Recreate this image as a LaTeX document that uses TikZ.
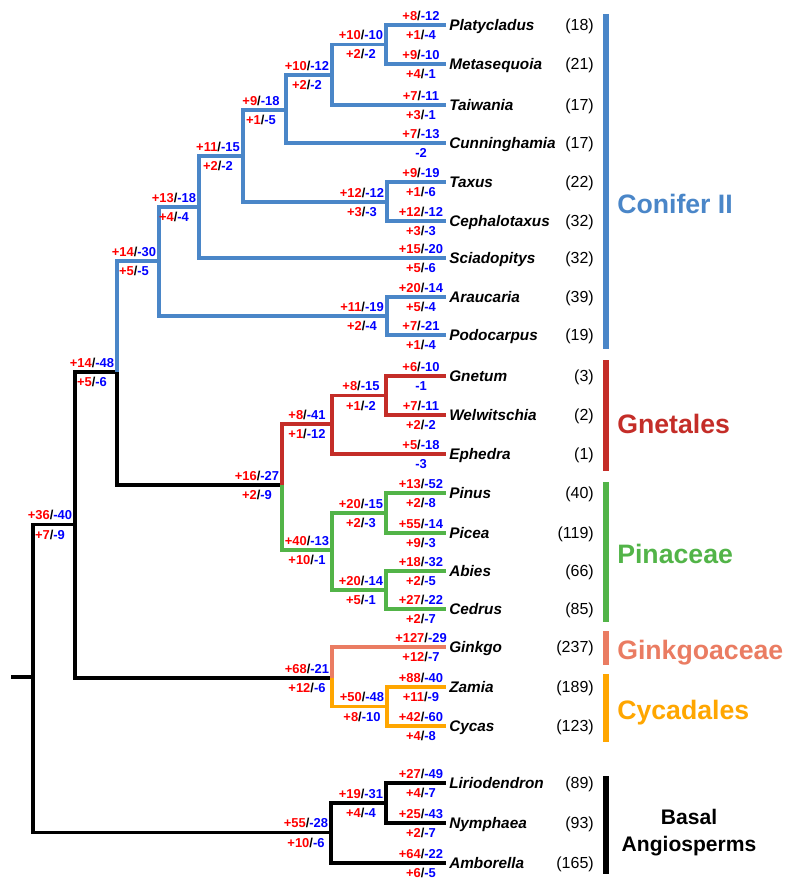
\documentclass[tikz,border=0pt]{standalone}
\usepackage{fontspec}
\setmainfont{Liberation Sans}
\definecolor{cII}{RGB}{74,134,200}
\definecolor{gne}{RGB}{196,45,40}
\definecolor{pinc}{RGB}{82,180,72}
\definecolor{gin}{RGB}{234,124,98}
\definecolor{cyc}{RGB}{255,166,0}
\definecolor{lr}{RGB}{255,0,0}
\definecolor{lb}{RGB}{0,0,255}
\newcommand\gainloss[2]{\textcolor{lr}{+#1}/\textcolor{lb}{-#2}}
\newcommand\lossonly[1]{\textcolor{lb}{-#1}}
% name, parent, x, y, colour, upper, lower
\newcommand\mkinner[7]{%
  \coordinate (#1) at (#3,#4);
  \draw[br,color=#5] (#2) |- (#1);
  \node[lab] (#1u) at ([shift={(-25,-4.9)}]#1) {#6};
  \node[lab] (#1l) at ([shift={(-25,14.5)}]#1) {#7};
}
% name, parent, y, colour, species, count, upper, lower
\newcommand\mkleaf[8]{%
  \coordinate (#1) at (446,#3);
  \draw[br,color=#4] (#2) |- (#1);
  \node[lab] (#1u) at ([shift={(-25,-4.9)}]#1) {#7};
  \node[lab] (#1l) at ([shift={(-25,14.5)}]#1) {#8};
  \node[sp] (#1s) at (449,#3+5.5) {#5};
  \node[cnt] (#1c) at (594,#3+5.7) {(#6)};
}
\begin{document}
\begin{tikzpicture}[x=0.75pt,y=-0.75pt,
  br/.style={line width=2.4pt},
  lab/.style={font=\bfseries\fontsize{9.7}{11}\selectfont,inner sep=0pt,anchor=base},
  sp/.style={font=\bfseries\itshape\fontsize{11.5}{13}\selectfont,inner sep=0pt,anchor=base west},
  cnt/.style={font=\fontsize{12}{14}\selectfont,inner sep=0pt,anchor=base east},
  clade/.style={font=\bfseries\fontsize{20}{24}\selectfont,inner sep=0pt,anchor=base west},
  bar/.style={line width=4.9pt}]
\useasboundingbox (0,0) rectangle (793,891);
\coordinate (stub) at (11,677);
\coordinate (root) at (33,677);
\draw[br] (stub) -- (root);
\mkinner{gym}{root}{75}{524.5}{black}{\gainloss{36}{40}}{\gainloss{7}{9}}
\mkinner{gymb}{gym}{117}{372}{black}{\gainloss{14}{48}}{\gainloss{5}{6}}
\mkinner{sa}{gymb}{159}{261}{cII}{\gainloss{14}{30}}{\gainloss{5}{5}}
\mkinner{s}{sa}{199}{207}{cII}{\gainloss{13}{18}}{\gainloss{4}{4}}
\mkinner{cup}{s}{243}{156}{cII}{\gainloss{11}{15}}{\gainloss{2}{2}}
\mkinner{pmtc}{cup}{286}{110}{cII}{\gainloss{9}{18}}{\gainloss{1}{5}}
\mkinner{pmt}{pmtc}{332}{75}{cII}{\gainloss{10}{12}}{\gainloss{2}{2}}
\mkinner{pm}{pmt}{386}{44.5}{cII}{\gainloss{10}{10}}{\gainloss{2}{2}}
\mkleaf{platy}{pm}{25}{cII}{Platycladus}{18}{\gainloss{8}{12}}{\gainloss{1}{4}}
\mkleaf{meta}{pm}{64}{cII}{Metasequoia}{21}{\gainloss{9}{10}}{\gainloss{4}{1}}
\mkleaf{taiw}{pmt}{105}{cII}{Taiwania}{17}{\gainloss{7}{11}}{\gainloss{3}{1}}
\mkleaf{cunn}{pmtc}{143}{cII}{Cunninghamia}{17}{\gainloss{7}{13}}{\lossonly{2}}
\mkinner{tc}{cup}{387}{202}{cII}{\gainloss{12}{12}}{\gainloss{3}{3}}
\mkleaf{taxus}{tc}{182}{cII}{Taxus}{22}{\gainloss{9}{19}}{\gainloss{1}{6}}
\mkleaf{ceph}{tc}{221}{cII}{Cephalotaxus}{32}{\gainloss{12}{12}}{\gainloss{3}{3}}
\mkleaf{scia}{s}{258}{cII}{Sciadopitys}{32}{\gainloss{15}{20}}{\gainloss{5}{6}}
\mkinner{ap}{sa}{387}{316}{cII}{\gainloss{11}{19}}{\gainloss{2}{4}}
\mkleaf{arau}{ap}{297}{cII}{Araucaria}{39}{\gainloss{20}{14}}{\gainloss{5}{4}}
\mkleaf{podo}{ap}{335}{cII}{Podocarpus}{19}{\gainloss{7}{21}}{\gainloss{1}{4}}
\mkinner{gp}{gymb}{282}{485}{black}{\gainloss{16}{27}}{\gainloss{2}{9}}
\mkinner{gn}{gp}{332}{424}{gne}{\gainloss{8}{41}}{\gainloss{1}{12}}
\mkinner{gw}{gn}{386}{395.5}{gne}{\gainloss{8}{15}}{\gainloss{1}{2}}
\mkleaf{gnet}{gw}{376}{gne}{Gnetum}{3}{\gainloss{6}{10}}{\lossonly{1}}
\mkleaf{welw}{gw}{415}{gne}{Welwitschia}{2}{\gainloss{7}{11}}{\gainloss{2}{2}}
\mkleaf{ephe}{gn}{454}{gne}{Ephedra}{1}{\gainloss{5}{18}}{\lossonly{3}}
\mkinner{pina}{gp}{332}{550}{pinc}{\gainloss{40}{13}}{\gainloss{10}{1}}
\mkinner{pp}{pina}{386}{513}{pinc}{\gainloss{20}{15}}{\gainloss{2}{3}}
\mkleaf{pinus}{pp}{493}{pinc}{Pinus}{40}{\gainloss{13}{52}}{\gainloss{2}{8}}
\mkleaf{picea}{pp}{533}{pinc}{Picea}{119}{\gainloss{55}{14}}{\gainloss{9}{3}}
\mkinner{ac}{pina}{386}{590}{pinc}{\gainloss{20}{14}}{\gainloss{5}{1}}
\mkleaf{abies}{ac}{571}{pinc}{Abies}{66}{\gainloss{18}{32}}{\gainloss{2}{5}}
\mkleaf{cedr}{ac}{609}{pinc}{Cedrus}{85}{\gainloss{27}{22}}{\gainloss{2}{7}}
\mkinner{gc}{gym}{332}{678}{black}{\gainloss{68}{21}}{\gainloss{12}{6}}
\mkleaf{gink}{gc}{647}{gin}{Ginkgo}{237}{\gainloss{127}{29}}{\gainloss{12}{7}}
\mkinner{cy}{gc}{387}{706.5}{cyc}{\gainloss{50}{48}}{\gainloss{8}{10}}
\mkleaf{zami}{cy}{687}{cyc}{Zamia}{189}{\gainloss{88}{40}}{\gainloss{11}{9}}
\mkleaf{cyca}{cy}{726}{cyc}{Cycas}{123}{\gainloss{42}{60}}{\gainloss{4}{8}}
\mkinner{ang}{root}{331}{832.5}{black}{\gainloss{55}{28}}{\gainloss{10}{6}}
\mkinner{ln}{ang}{386}{803}{black}{\gainloss{19}{31}}{\gainloss{4}{4}}
\mkleaf{lirio}{ln}{783}{black}{Liriodendron}{89}{\gainloss{27}{49}}{\gainloss{4}{7}}
\mkleaf{nymp}{ln}{823}{black}{Nymphaea}{93}{\gainloss{25}{43}}{\gainloss{2}{7}}
\mkleaf{ambo}{ang}{863}{black}{Amborella}{165}{\gainloss{64}{22}}{\gainloss{6}{5}}
% clade bars
\coordinate (b1a) at (606,14);  \coordinate (b1b) at (606,349);
\coordinate (b2a) at (606,360); \coordinate (b2b) at (606,471);
\coordinate (b3a) at (606,482); \coordinate (b3b) at (606,622);
\coordinate (b4a) at (606,631); \coordinate (b4b) at (606,665);
\coordinate (b5a) at (606,674); \coordinate (b5b) at (606,742);
\coordinate (b6a) at (606,776); \coordinate (b6b) at (606,874);
\draw[bar,cII] (b1a) -- (b1b);
\draw[bar,gne] (b2a) -- (b2b);
\draw[bar,pinc] (b3a) -- (b3b);
\draw[bar,gin] (b4a) -- (b4b);
\draw[bar,cyc] (b5a) -- (b5b);
\draw[bar,black] (b6a) -- (b6b);
\node[clade,text=cII] (cl1) at (617,214) {Conifer II};
\node[clade,text=gne] (cl2) at (617,433) {Gnetales};
\node[clade,text=pinc] (cl3) at (617,563) {Pinaceae};
\node[clade,text=gin] (cl4) at (617,659) {Ginkgoaceae};
\node[clade,text=cyc] (cl5) at (617,719) {Cycadales};
\node[font=\bfseries\fontsize{15.8}{20}\selectfont,inner sep=0pt,anchor=base] (cl6a) at (689,824) {Basal};
\node[font=\bfseries\fontsize{15.8}{20}\selectfont,inner sep=0pt,anchor=base] (cl6b) at (689,851) {Angiosperms};
\end{tikzpicture}
\end{document}
